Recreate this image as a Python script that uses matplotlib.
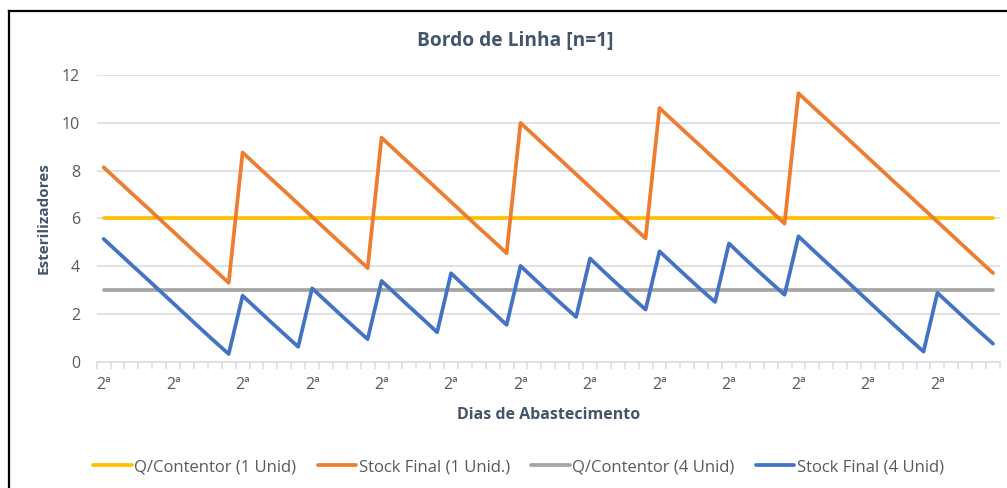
import matplotlib.pyplot as plt
from matplotlib.lines import Line2D

# weekday labels (2ª..6ª) repeated, 65 supply days
dias = ["2ª", "3ª", "4ª", "5ª", "6ª"] * 13

q_contentor_1 = [6] * 65
q_contentor_4 = [3] * 65

stock_final_1 = [
    8.14, 7.60, 7.06, 6.53, 5.99, 5.45, 4.91, 4.37, 3.84, 3.30,
    8.76, 8.22, 7.68, 7.15, 6.61, 6.07, 5.53, 4.99, 4.46, 3.92,
    9.38, 8.84, 8.30, 7.77, 7.23, 6.69, 6.15, 5.61, 5.08, 4.54,
    10.00, 9.46, 8.92, 8.39, 7.85, 7.31, 6.77, 6.23, 5.70, 5.16,
    10.62, 10.08, 9.54, 9.01, 8.47, 7.93, 7.39, 6.85, 6.32, 5.78,
    11.24, 10.70, 10.16, 9.63, 9.09, 8.55, 8.01, 7.47, 6.94, 6.40,
    5.86, 5.32, 4.78, 4.24, 3.71,
]

stock_final_4 = [
    5.14, 4.60, 4.06, 3.53, 2.99, 2.45, 1.91, 1.37, 0.84, 0.32,
    2.76, 2.22, 1.68, 1.15, 0.62,
    3.07, 2.53, 1.99, 1.46, 0.94,
    3.38, 2.84, 2.30, 1.77, 1.23,
    3.70, 3.15, 2.61, 2.08, 1.54,
    4.01, 3.46, 2.92, 2.39, 1.87,
    4.32, 3.77, 3.23, 2.70, 2.18,
    4.62, 4.08, 3.54, 3.01, 2.50,
    4.95, 4.39, 3.85, 3.32, 2.80,
    5.25, 4.70, 4.16, 3.63, 3.09, 2.55, 2.01, 1.47, 0.94, 0.42,
    2.88, 2.34, 1.80, 1.27, 0.75,
]

plt.rcParams["font.family"] = ["Open Sans", "DejaVu Sans"]
text_color = "#44546A"
tick_color = "#595959"
grid_color = "#D9DEE4"

fig = plt.figure(figsize=(10.07, 4.88), dpi=100)
ax = fig.add_axes([0.096, 0.259, 0.897, 0.587])

x = list(range(len(dias)))
ax.plot(x, q_contentor_1, color="#FFC000", lw=2.7, label="Q/Contentor (1 Unid)", solid_capstyle="round")
ax.plot(x, stock_final_1, color="#ED7D31", lw=2.7, label="Stock Final (1 Unid.)", solid_capstyle="round")
ax.plot(x, q_contentor_4, color="#A5A5A5", lw=2.7, label="Q/Contentor (4 Unid)", solid_capstyle="round")
ax.plot(x, stock_final_4, color="#4472C4", lw=2.7, label="Stock Final (4 Unid)", solid_capstyle="round")

ax.set_xlim(-0.5, len(dias) - 0.5)
ax.set_ylim(0, 12)
ax.set_yticks(range(0, 13, 2))
ax.yaxis.grid(True, color=grid_color, lw=1.2)
ax.set_axisbelow(True)

# category labels every 5 days, tick marks between categories
ax.set_xticks(x[::5])
ax.set_xticklabels(dias[::5])
ax.set_xticks([i - 0.5 for i in range(len(dias) + 1)], minor=True)
ax.tick_params(axis="x", which="major", length=0, pad=11, labelsize=11.5, labelcolor=tick_color)
ax.tick_params(axis="x", which="minor", length=5, color=grid_color, width=1.2)
ax.tick_params(axis="y", length=0, pad=12, labelsize=11.5, labelcolor=tick_color)

for side in ["top", "right", "left"]:
    ax.spines[side].set_visible(False)
ax.spines["bottom"].set_color(grid_color)
ax.spines["bottom"].set_linewidth(1.2)

ax.set_xlabel("Dias de Abastecimento", fontsize=11.5, fontweight="bold", color=text_color, labelpad=10)
ax.set_ylabel("Esterilizadores", fontsize=11, fontweight="bold", color=text_color, labelpad=8)

fig.text(0.512, 0.917, "Bordo de Linha [n=1]", ha="center", va="center",
         fontsize=13.8, fontweight="bold", color=text_color)

fig.legend(loc="center", bbox_to_anchor=(0.515, 0.043), ncol=4, frameon=False,
           fontsize=12, labelcolor=tick_color, handlelength=2.3, handletextpad=0.15,
           columnspacing=1.3)

# chart frame (left and top edges visible)
fig.add_artist(Line2D([0.009, 0.009], [0.0, 0.9775], color="black", lw=1.6))
fig.add_artist(Line2D([0.009, 1.0], [0.9775, 0.9775], color="black", lw=1.6))

fig.savefig("out.png", dpi=100)
